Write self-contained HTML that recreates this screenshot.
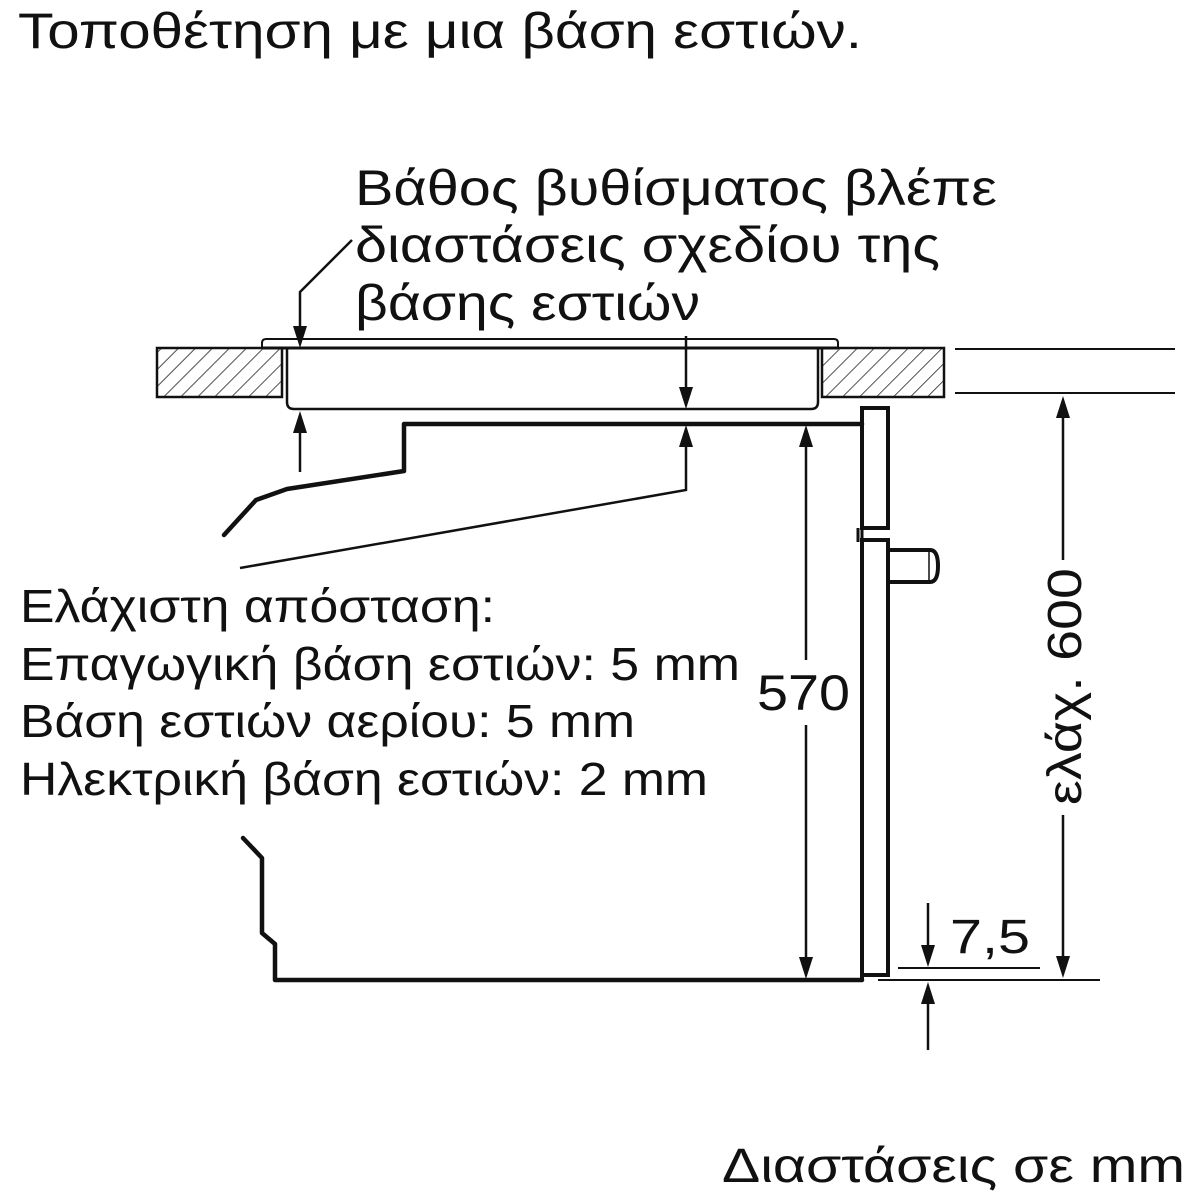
<!DOCTYPE html>
<html><head><meta charset="utf-8"><style>html,body{margin:0;padding:0;background:#fff}svg{display:block}</style></head>
<body>
<svg width="1200" height="1200" viewBox="0 0 1200 1200" xmlns="http://www.w3.org/2000/svg" font-family="'Liberation Sans', 'DejaVu Sans', sans-serif" fill="#111">
<defs>
<pattern id="h" width="12" height="12" patternUnits="userSpaceOnUse" patternTransform="rotate(45)">
<line x1="0" y1="0" x2="0" y2="12" stroke="#222" stroke-width="1.6"/>
</pattern>
</defs>
<text x="18" y="48" font-size="50" textLength="844" lengthAdjust="spacingAndGlyphs">Τοποθέτηση με μια βάση εστιών.</text>
<text x="355" y="205" font-size="50" textLength="642" lengthAdjust="spacingAndGlyphs">Βάθος βυθίσματος βλέπε</text>
<text x="355" y="262" font-size="50" textLength="585" lengthAdjust="spacingAndGlyphs">διαστάσεις σχεδίου της</text>
<text x="355" y="320" font-size="50" textLength="345" lengthAdjust="spacingAndGlyphs">βάσης εστιών</text>
<text x="20" y="622" font-size="46" textLength="475" lengthAdjust="spacingAndGlyphs">Ελάχιστη απόσταση:</text>
<text x="20" y="680" font-size="46" textLength="720" lengthAdjust="spacingAndGlyphs">Επαγωγική βάση εστιών: 5 mm</text>
<text x="20" y="737" font-size="46" textLength="615" lengthAdjust="spacingAndGlyphs">Βάση εστιών αερίου: 5 mm</text>
<text x="20" y="795" font-size="46" textLength="688" lengthAdjust="spacingAndGlyphs">Ηλεκτρική βάση εστιών: 2 mm</text>
<text x="757" y="710" font-size="50" textLength="93" lengthAdjust="spacingAndGlyphs">570</text>
<text x="950" y="953" font-size="48" textLength="80" lengthAdjust="spacingAndGlyphs">7,5</text>
<text x="722" y="1182" font-size="48" textLength="463" lengthAdjust="spacingAndGlyphs">Διαστάσεις σε mm</text>
<text transform="translate(1081,805) rotate(-90)" x="0" y="0" font-size="48" textLength="237" lengthAdjust="spacingAndGlyphs">ελάχ. 600</text>

<g stroke="#111" fill="none">
<rect x="157" y="348" width="125" height="49" fill="url(#h)" stroke-width="2.5"/>
<rect x="822" y="348" width="122" height="49" fill="url(#h)" stroke-width="2.5"/>
<path d="M262,348 L262,343 Q262,339 266,339 L834,339 Q838,339 838,343 L838,348" stroke-width="2"/>
<line x1="262" y1="348" x2="838" y2="348" stroke-width="3"/>
<path d="M287,348 L287,402 Q287,409 294,409 L811,409 Q818,409 818,402 L818,348" stroke-width="2.5"/>
<line x1="955" y1="349" x2="1175" y2="349" stroke-width="2"/>
<line x1="955" y1="393" x2="1175" y2="393" stroke-width="2"/>
<polyline points="862,424 404,424 404,471 287,489 256,500 224,535" stroke-width="4.5" stroke-linejoin="round" stroke-linecap="round"/>
<polyline points="686,432 686,490 240,568" stroke-width="2.5"/>
<polyline points="243,838 262,858 262,933 275,944 275,980 862,980" stroke-width="4.5" stroke-linejoin="round" stroke-linecap="round"/>
<rect x="862" y="408" width="26" height="120" stroke-width="4"/>
<path d="M862,528 L862,540 M858,528 L858,542" stroke-width="3"/>
<path d="M862,540 L888,540 L888,975 L862,975 Z" stroke-width="4"/>
<line x1="862" y1="975" x2="862" y2="980" stroke-width="4"/>
<path d="M888,550 L930,550 Q938,550 938,566 Q938,582 930,582 L888,582" stroke-width="4"/>
<line x1="929" y1="552" x2="929" y2="580" stroke-width="1.5"/>
<polyline points="352,240 300,292 300,334" stroke-width="2.5"/>
<line x1="686" y1="336" x2="686" y2="392" stroke-width="2.5"/>
<line x1="300" y1="430" x2="300" y2="472" stroke-width="2.5"/>
<line x1="806" y1="440" x2="806" y2="660" stroke-width="2.5"/>
<line x1="806" y1="725" x2="806" y2="962" stroke-width="2.5"/>
<line x1="1063" y1="412" x2="1063" y2="560" stroke-width="2.5"/>
<line x1="1063" y1="815" x2="1063" y2="960" stroke-width="2.5"/>
<line x1="878" y1="980" x2="1100" y2="980" stroke-width="2"/>
<line x1="898" y1="968" x2="1040" y2="968" stroke-width="2"/>
<line x1="928" y1="903" x2="928" y2="950" stroke-width="2.5"/>
<line x1="928" y1="998" x2="928" y2="1050" stroke-width="2.5"/>
</g>
<g fill="#111">
<polygon points="300,348 293,326 307,326"/>
<polygon points="686,409 679,387 693,387"/>
<polygon points="300,411 293,433 307,433"/>
<polygon points="686,425 679,447 693,447"/>
<polygon points="806,425 799,447 813,447"/>
<polygon points="806,979 799,957 813,957"/>
<polygon points="1063,396 1056,418 1070,418"/>
<polygon points="1063,978 1056,956 1070,956"/>
<polygon points="928,967 921,945 935,945"/>
<polygon points="928,982 921,1004 935,1004"/>
</g>
</svg>
</body></html>
